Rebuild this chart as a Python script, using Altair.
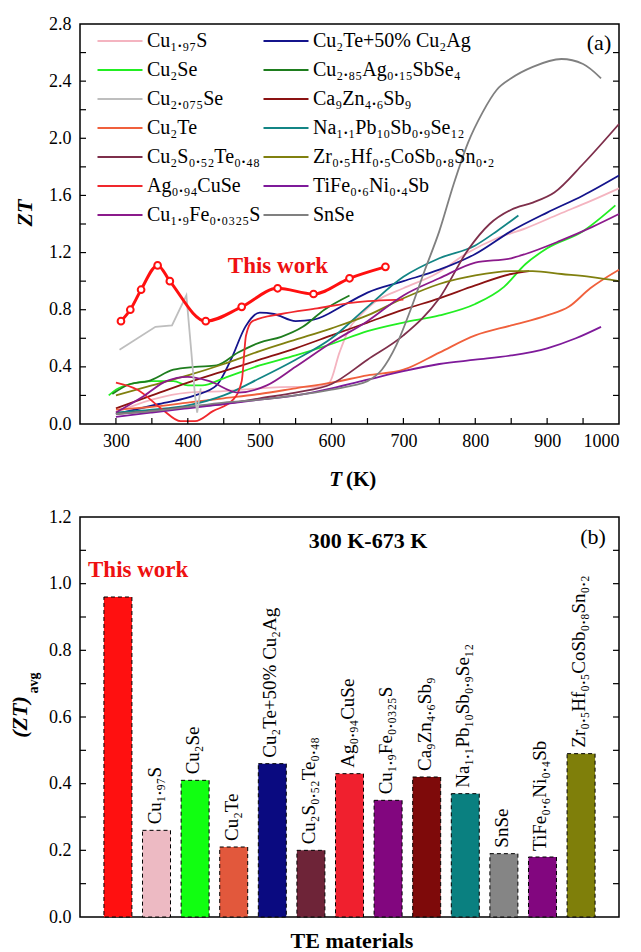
import altair as alt
import pandas as pd

FONT = "Liberation Serif"

# ---------------- Panel (a): ZT vs T ----------------
T_this = [307, 320, 335, 358, 375, 425, 475, 525, 575, 625, 675]
ZT_this = [0.72, 0.80, 0.94, 1.11, 1.00, 0.72, 0.82, 0.95, 0.91, 1.02, 1.10]

T_cu197s = [300, 350, 400, 450, 500, 550, 580, 597, 611, 625, 640, 662, 700, 745, 790, 830, 870, 917, 960, 1000]
ZT_cu197s = [0.08, 0.17, 0.22, 0.23, 0.25, 0.26, 0.26, 0.29, 0.50, 0.67, 0.76, 0.86, 0.95, 1.05, 1.20, 1.30, 1.37, 1.47, 1.56, 1.65]

T_cu2se = [290, 300, 320, 350, 380, 400, 420, 450, 500, 550, 600, 650, 700, 750, 800, 840, 870, 900, 950, 995]
ZT_cu2se = [0.20, 0.24, 0.28, 0.30, 0.30, 0.27, 0.27, 0.32, 0.41, 0.48, 0.56, 0.65, 0.71, 0.76, 0.84, 0.96, 1.12, 1.23, 1.35, 1.53]

T_cu2075se = [305, 355, 378, 398, 405, 410, 413, 418]
ZT_cu2075se = [0.52, 0.68, 0.69, 0.90, 0.50, 0.20, 0.08, 0.25]

T_cu2te = [300, 350, 400, 450, 500, 550, 600, 650, 700, 750, 800, 850, 900, 930, 960, 1000]
ZT_cu2te = [0.10, 0.12, 0.15, 0.18, 0.21, 0.25, 0.29, 0.34, 0.38, 0.50, 0.62, 0.69, 0.76, 0.82, 0.95, 1.08]

T_custe = [300, 350, 400, 450, 500, 550, 600, 650, 700, 750, 790, 820, 850, 880, 910, 950, 1000]
ZT_custe = [0.07, 0.09, 0.12, 0.14, 0.18, 0.22, 0.28, 0.45, 0.62, 0.88, 1.22, 1.40, 1.50, 1.55, 1.62, 1.82, 2.10]

T_agcuse = [300, 330, 365, 390, 410, 435, 463, 475, 481, 490, 530, 580, 630, 700]
ZT_agcuse = [0.29, 0.24, 0.10, 0.02, 0.02, 0.09, 0.17, 0.30, 0.62, 0.72, 0.77, 0.81, 0.85, 0.87]

T_cufes = [300, 340, 370, 400, 430, 470, 510, 550, 600, 650, 700, 750, 800, 850, 870, 917, 963, 1000]
ZT_cufes = [0.08, 0.20, 0.30, 0.33, 0.30, 0.22, 0.27, 0.40, 0.57, 0.72, 0.90, 1.02, 1.13, 1.16, 1.19, 1.28, 1.38, 1.47]

T_cu2te_ag = [300, 360, 410, 440, 460, 480, 500, 520, 550, 575, 620, 650, 700, 750, 800, 850, 900, 950, 1000]
ZT_cu2te_ag = [0.07, 0.14, 0.20, 0.27, 0.45, 0.68, 0.78, 0.77, 0.72, 0.73, 0.84, 0.92, 1.00, 1.08, 1.19, 1.35, 1.48, 1.60, 1.74]

T_cuagsbse = [295, 320, 345, 380, 410, 440, 470, 500, 530, 560, 590, 625]
ZT_cuagsbse = [0.21, 0.28, 0.30, 0.38, 0.40, 0.41, 0.50, 0.57, 0.61, 0.68, 0.80, 0.90]

T_cazn = [300, 350, 400, 450, 500, 550, 600, 650, 700, 750, 800, 850, 875]
ZT_cazn = [0.11, 0.20, 0.29, 0.37, 0.45, 0.53, 0.62, 0.71, 0.80, 0.88, 0.97, 1.05, 1.07]

T_napbse = [300, 350, 400, 450, 500, 550, 600, 650, 700, 750, 800, 830, 860]
ZT_napbse = [0.08, 0.10, 0.13, 0.20, 0.32, 0.45, 0.60, 0.82, 1.03, 1.16, 1.25, 1.35, 1.46]

T_zrhf = [300, 350, 400, 450, 500, 550, 600, 650, 700, 750, 800, 850, 880, 920, 960, 1000]
ZT_zrhf = [0.20, 0.27, 0.34, 0.42, 0.51, 0.59, 0.67, 0.76, 0.88, 0.98, 1.04, 1.07, 1.07, 1.05, 1.03, 1.00]

T_tifeni = [300, 350, 400, 450, 500, 550, 600, 650, 700, 750, 800, 850, 900, 940, 975]
ZT_tifeni = [0.05, 0.08, 0.11, 0.14, 0.17, 0.20, 0.25, 0.31, 0.37, 0.42, 0.45, 0.48, 0.53, 0.60, 0.68]

T_snse = [300, 350, 400, 450, 500, 550, 600, 630, 650, 670, 690, 710, 730, 750, 770, 790, 810, 830, 850, 880, 920, 950, 975]
ZT_snse = [0.07, 0.09, 0.12, 0.15, 0.17, 0.20, 0.24, 0.27, 0.30, 0.38, 0.55, 0.80, 1.08, 1.35, 1.68, 1.97, 2.18, 2.34, 2.42, 2.50, 2.555, 2.52, 2.42]

# legend order (column-major: left column then right column)
legend_names = ["Cu₁.₉₇S", "Cu₂Se", "Cu₂.₀₇₅Se", "Cu₂Te", "Cu₂S₀.₅₂Te₀.₄₈", "Ag₀.₉₄CuSe", "Cu₁.₉Fe₀.₀₃₂₅S",
                "Cu₂Te+50% Cu₂Ag", "Cu₂.₈₅Ag₀.₁₅SbSe₄", "Ca₉Zn₄.₆Sb₉", "Na₁.₁Pb₁₀Sb₀.₉Se₁₂",
                "Zr₀.₅Hf₀.₅CoSb₀.₈Sn₀.₂", "TiFe₀.₆Ni₀.₄Sb", "SnSe"]
legend_colors = ["#F4B4C0", "#22EE22", "#BEBEBE", "#F0603C", "#7E2F4B", "#F0282D", "#8B1A8B",
                 "#14148C", "#1E7D1E", "#8B1212", "#138585", "#80800F", "#7E1A9A", "#808080"]

series = {
    "Cu₁.₉₇S": (T_cu197s, ZT_cu197s),
    "Cu₂Te+50% Cu₂Ag": (T_cu2te_ag, ZT_cu2te_ag),
    "Cu₂Se": (T_cu2se, ZT_cu2se),
    "Cu₂.₈₅Ag₀.₁₅SbSe₄": (T_cuagsbse, ZT_cuagsbse),
    "Ca₉Zn₄.₆Sb₉": (T_cazn, ZT_cazn),
    "Cu₂Te": (T_cu2te, ZT_cu2te),
    "Na₁.₁Pb₁₀Sb₀.₉Se₁₂": (T_napbse, ZT_napbse),
    "Cu₂S₀.₅₂Te₀.₄₈": (T_custe, ZT_custe),
    "Zr₀.₅Hf₀.₅CoSb₀.₈Sn₀.₂": (T_zrhf, ZT_zrhf),
    "Ag₀.₉₄CuSe": (T_agcuse, ZT_agcuse),
    "TiFe₀.₆Ni₀.₄Sb": (T_tifeni, ZT_tifeni),
    "Cu₁.₉Fe₀.₀₃₂₅S": (T_cufes, ZT_cufes),
    "SnSe": (T_snse, ZT_snse),
}
rows = []
for name, (ts, zs) in series.items():
    for t, z in zip(ts, zs):
        rows.append({"series": name, "T": t, "ZT": z})
df_lines = pd.DataFrame(rows)
df_gray = pd.DataFrame({"T": T_cu2075se, "ZT": ZT_cu2075se})
df_this = pd.DataFrame({"T": T_this, "ZT": ZT_this})

x_labels_a = [300, 400, 500, 600, 700, 800, 900, 1000]
x_ticks_a = [300, 350, 400, 450, 500, 550, 600, 650, 700, 750, 800, 850, 900, 950]
y_labels_a = [0.0, 0.4, 0.8, 1.2, 1.6, 2.0, 2.4, 2.8]
y_ticks_a = [0.2, 0.4, 0.6, 0.8, 1.0, 1.2, 1.4, 1.6, 1.8, 2.0, 2.2, 2.4, 2.6]

W, H = 539, 400
xs_a = alt.Scale(domain=[250, 1000], nice=False, zero=False)
ys_a = alt.Scale(domain=[0, 2.8], nice=False)
xa_a = alt.Axis(values=x_labels_a, format="d", ticks=False, tickSize=0, domain=False, grid=False,
                title=None, labelPadding=8, labelFontSize=18, labelFont=FONT, labelColor="black")
ya_a = alt.Axis(values=y_labels_a, format=".1f", ticks=False, tickSize=0, domain=False, grid=False,
                title=None, labelPadding=9, labelFontSize=18, labelFont=FONT, labelColor="black")

legend = alt.Legend(orient="none", legendX=15, legendY=7, columns=2, title=None, padding=0,
                    symbolType="M-1,0H5", symbolSize=225, symbolStrokeWidth=2,
                    labelFont=FONT, labelFontSize=20, labelColor="black", labelOffset=32,
                    labelLimit=400, rowPadding=9, columnPadding=-11)

lines = alt.Chart(df_lines).mark_line(strokeWidth=1.8, interpolate="monotone").encode(
    x=alt.X("T:Q", scale=xs_a, axis=xa_a),
    y=alt.Y("ZT:Q", scale=ys_a, axis=ya_a),
    color=alt.Color("series:N", scale=alt.Scale(domain=legend_names, range=legend_colors), legend=legend),
)
gray_line = alt.Chart(df_gray).mark_line(strokeWidth=1.8, color="#BEBEBE").encode(
    x=alt.X("T:Q", scale=xs_a, axis=xa_a), y=alt.Y("ZT:Q", scale=ys_a, axis=ya_a))
this_line = alt.Chart(df_this).mark_line(strokeWidth=3, color="#FF1010", interpolate="monotone").encode(
    x=alt.X("T:Q", scale=xs_a, axis=xa_a), y=alt.Y("ZT:Q", scale=ys_a, axis=ya_a))
this_pts = alt.Chart(df_this).mark_point(shape="circle", size=45, filled=True, fill="white",
                                         stroke="#FF1010", strokeWidth=2, opacity=1).encode(
    x=alt.X("T:Q", scale=xs_a, axis=xa_a), y=alt.Y("ZT:Q", scale=ys_a, axis=ya_a))

df_yt_a = pd.DataFrame({"v": y_ticks_a})
df_xt_a = pd.DataFrame({"v": x_ticks_a})
tick_l_a = alt.Chart(df_yt_a).mark_rule(color="black", strokeWidth=1.2).encode(
    y=alt.Y("v:Q", scale=ys_a, axis=ya_a), x=alt.value(0), x2=alt.value(6))
tick_r_a = alt.Chart(df_yt_a).mark_rule(color="black", strokeWidth=1.2).encode(
    y=alt.Y("v:Q", scale=ys_a, axis=ya_a), x=alt.value(W), x2=alt.value(W - 6))
tick_b_a = alt.Chart(df_xt_a).mark_rule(color="black", strokeWidth=1.2).encode(
    x=alt.X("v:Q", scale=xs_a, axis=xa_a), y=alt.value(H), y2=alt.value(H - 6))


def label(text, x, y, size, color="black", weight="normal", style="normal", angle=0, align="center"):
    return alt.Chart(pd.DataFrame({"t": [text]})).mark_text(
        font=FONT, fontSize=size, color=color, fontWeight=weight, fontStyle=style,
        angle=angle, align=align, baseline="middle").encode(
        x=alt.value(x), y=alt.value(y), text="t:N")


top = alt.layer(
    lines, gray_line, tick_l_a, tick_r_a, tick_b_a, this_line, this_pts,
    label("This work", 198, 242, 23, color="#EE1111", weight="bold"),
    label("(a)", 519, 19, 22),
    label("ZT", -55, 189, 22, weight="bold", style="italic", angle=270),
    label("T", 262, 456, 21, weight="bold", style="italic", align="right"),
    label("(K)", 266, 456, 21, weight="bold", align="left"),
).properties(width=W, height=H)

# ---------------- Panel (b): average ZT bars ----------------
bar_names = ["This work", "Cu₁.₉₇S", "Cu₂Se", "Cu₂Te", "Cu₂Te+50% Cu₂Ag", "Cu₂S₀.₅₂Te₀.₄₈",
             "Ag₀.₉₄CuSe", "Cu₁.₉Fe₀.₀₃₂₅S", "Ca₉Zn₄.₆Sb₉", "Na₁.₁Pb₁₀Sb₀.₉Se₁₂", "SnSe",
             "TiFe₀.₆Ni₀.₄Sb", "Zr₀.₅Hf₀.₅CoSb₀.₈Sn₀.₂"]
bar_values = [0.96, 0.26, 0.41, 0.21, 0.46, 0.20, 0.43, 0.35, 0.42, 0.37, 0.19, 0.18, 0.49]
bar_colors = ["#FF1010", "#EDBAC3", "#11FF11", "#E2583C", "#0A0A80", "#6E2438", "#F0202E",
              "#82067F", "#7E0A0A", "#0A8080", "#858585", "#82067F", "#7F7F0A"]
bar_text = ["", "Cu₁.₉₇S", "Cu₂Se", "Cu₂Te", "Cu₂Te+50% Cu₂Ag", "Cu₂S₀.₅₂Te₀.₄₈",
            "Ag₀.₉₄CuSe", "Cu₁.₉Fe₀.₀₃₂₅S", "Ca₉Zn₄.₆Sb₉", "Na₁.₁Pb₁₀Sb₀.₉Se₁₂", "SnSe",
            "TiFe₀.₆Ni₀.₄Sb", "Zr₀.₅Hf₀.₅CoSb₀.₈Sn₀.₂"]
df_bars = pd.DataFrame({"name": bar_names, "value": bar_values, "label": bar_text})

y_labels_b = [0.0, 0.2, 0.4, 0.6, 0.8, 1.0, 1.2]
y_ticks_b = [0.1, 0.2, 0.3, 0.4, 0.5, 0.6, 0.7, 0.8, 0.9, 1.0, 1.1]

xs_b = alt.Scale(domain=bar_names, paddingInner=0.275, paddingOuter=0.62)
xa_b = alt.Axis(labels=False, ticks=False, domain=False, grid=False, title=None)
ys_b = alt.Scale(domain=[0, 1.2], nice=False)
ya_b = alt.Axis(values=y_labels_b, format=".1f", ticks=False, tickSize=0, domain=False, grid=False,
                title=None, labelPadding=9, labelFontSize=18, labelFont=FONT, labelColor="black")

bars = alt.Chart(df_bars).mark_bar(stroke="black", strokeWidth=1, strokeDash=[4, 3]).encode(
    x=alt.X("name:N", sort=None, scale=xs_b, axis=xa_b),
    y=alt.Y("value:Q", scale=ys_b, axis=ya_b),
    color=alt.Color("name:N", scale=alt.Scale(domain=bar_names, range=bar_colors), legend=None),
)
bar_lbls = alt.Chart(df_bars).mark_text(font=FONT, fontSize=19, angle=270, align="left",
                                        baseline="middle", dx=6, dy=-2, color="black").encode(
    x=alt.X("name:N", sort=None, scale=xs_b, axis=xa_b),
    y=alt.Y("value:Q", scale=ys_b, axis=ya_b),
    text="label:N",
)
df_yt_b = pd.DataFrame({"v": y_ticks_b})
tick_l_b = alt.Chart(df_yt_b).mark_rule(color="black", strokeWidth=1.2).encode(
    y=alt.Y("v:Q", scale=ys_b, axis=ya_b), x=alt.value(0), x2=alt.value(6))
tick_r_b = alt.Chart(df_yt_b).mark_rule(color="black", strokeWidth=1.2).encode(
    y=alt.Y("v:Q", scale=ys_b, axis=ya_b), x=alt.value(W), x2=alt.value(W - 6))

bottom = alt.layer(
    bars, bar_lbls, tick_l_b, tick_r_b,
    label("This work", 8, 53, 23, color="#EE1111", weight="bold", align="left"),
    label("300 K-673 K", 288, 24, 22, weight="bold"),
    label("(b)", 513, 20, 22),
    label("(ZT)", -60, 200, 22, weight="bold", style="italic", angle=270),
    label("avg", -46, 166, 14, weight="bold", angle=270),
    label("TE materials", 272, 424, 22, weight="bold"),
).properties(width=W, height=H)

chart = alt.vconcat(top, bottom, spacing=16).resolve_scale(color="independent").properties(
    padding={"left": 8, "top": 14, "right": 0, "bottom": 0},
    background="white",
).configure_view(stroke="black", strokeWidth=1.5).configure_text(font=FONT).configure_axis(
    labelFont=FONT, titleFont=FONT).configure_legend(labelFont=FONT)

chart.save("out.html", embed_options={"renderer": "svg", "actions": False})
